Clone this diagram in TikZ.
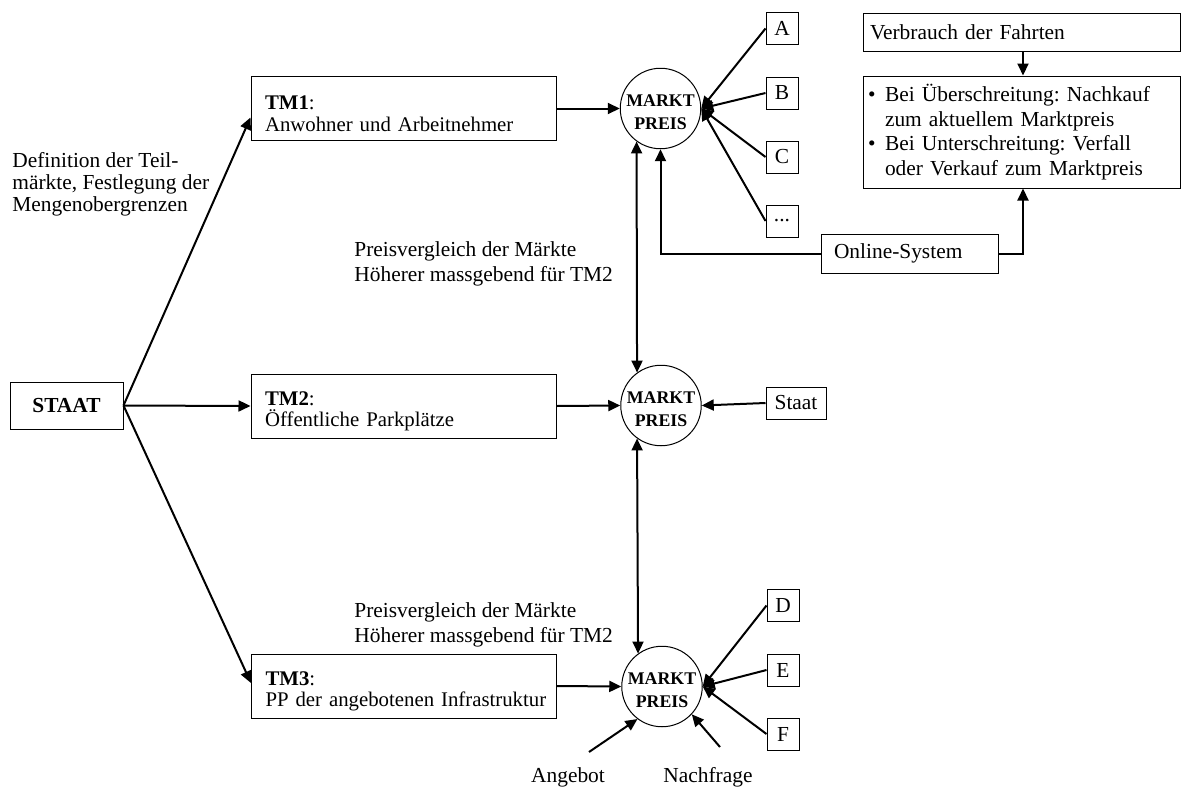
\documentclass[tikz,border=0pt]{standalone}
\usepackage{fontspec}
\setmainfont{Liberation Serif}
\usetikzlibrary{arrows.meta,calc}
\frenchspacing
\begin{document}
\begin{tikzpicture}[x=0.5pt,y=-0.5pt,
  font=\fontsize{10.7}{12.3}\selectfont\frenchspacing,
  box/.style={draw,line width=0.5pt,inner sep=0pt},
  tmbox/.style={box,minimum width=152.5pt,minimum height=32pt,text width=138.5pt,align=left,font=\fontsize{10.4}{10.8}\selectfont\frenchspacing},
  letter/.style={box,minimum width=16pt,minimum height=16pt},
  markt/.style={draw,circle,line width=0.5pt,minimum size=40pt,inner sep=0pt,align=center,font=\fontsize{8.9}{11.5}\selectfont\bfseries},
  arr/.style={line width=1pt,-{Triangle[length=6pt,width=5.5pt]}},
  darr/.style={line width=1pt,{Triangle[length=6pt,width=5.5pt]}-{Triangle[length=6pt,width=5.5pt]}},
  lbl/.style={inner sep=0pt,align=left}]
\useasboundingbox (0,0) rectangle (1182,787);

% nodes
\node[box,minimum width=56.5pt,minimum height=23.5pt,font=\fontsize{10.7}{12.3}\selectfont\bfseries] (staat) at (66.5,405.5) {STAAT};
\node[tmbox] (tm1) at (403.5,108.5) {\rule{0pt}{12.3pt}\textbf{TM1}:\\\mbox{Anwohner und Arbeitnehmer}};
\node[tmbox] (tm2) at (403.5,406) {\rule{0pt}{12.3pt}\textbf{TM2}:\\\mbox{Öffentliche Parkplätze}};
\node[tmbox] (tm3) at (404,686) {\rule{0pt}{12.3pt}\textbf{TM3}:\\\mbox{PP der angebotenen Infrastruktur}};

\node[markt] (c1) at (660.5,108.5) {\rule{0pt}{10pt}MARKT\\PREIS};
\node[markt] (c2) at (661,405.5) {\rule{0pt}{10pt}MARKT\\PREIS};
\node[markt] (c3) at (662,686.5) {\rule{0pt}{10pt}MARKT\\PREIS};

\node[letter] (a) at (782,28.5) {A};
\node[letter] (b) at (782,93) {B};
\node[letter] (c) at (782,157) {C};
\node[letter] (dots) at (782,221) {...};
\node[box,minimum width=30pt,minimum height=16pt] (st2) at (796,403) {Staat};
\node[letter] (d) at (783,605.5) {D};
\node[letter] (e) at (783,670) {E};
\node[letter] (f) at (783,734) {F};

\node[box,minimum width=88.5pt,minimum height=19.5pt,text width=75.5pt,align=left] (online) at (909.5,253.5) {Online-System};
\node[box,minimum width=158.5pt,minimum height=19pt,text width=151.5pt,align=left] (verb) at (1021.5,32) {Verbrauch der Fahrten};
\node[box,minimum width=158.5pt,minimum height=56pt,text width=153.5pt,align=left] (bul) at (1021.5,132)
 {\makebox[8.5pt][l]{\textbullet}Bei Überschreitung: Nachkauf\\\hspace*{8.5pt}zum aktuellem Marktpreis\\
  \makebox[8.5pt][l]{\textbullet}Bei Unterschreitung: Verfall\\\hspace*{8.5pt}oder Verkauf zum Marktpreis};

\node[lbl,anchor=west,font=\fontsize{10.7}{10.9}\selectfont] (deftxt) at (12,184) {Definition der Teil-\\märkte, Festlegung der\\Mengenobergrenzen};
\node[lbl,anchor=west] (pv1) at (354,264) {Preisvergleich der Märkte\\Höherer massgebend für TM2};
\node[lbl,anchor=west] (pv2) at (354,625) {Preisvergleich der Märkte\\Höherer massgebend für TM2};

\node[inner sep=0pt] (angebot) at (568,777) {Angebot};
\node[inner sep=0pt] (nachfrage) at (708,777) {Nachfrage};
\coordinate (angs) at (589,752);
\coordinate (nachs) at (720,747);

% connectors
\draw[arr] (staat.east) -- ($(tm1.west)+(0,9)$);
\draw[arr] (staat.east) -- (tm2.west);
\draw[arr] (staat.east) -- ($(tm3.west)+(0,-3)$);
\draw[arr] (tm1.east) -- (c1.west);
\draw[arr] (tm2.east) -- (c2.west);
\draw[arr] (tm3.east) -- (c3.west);

\draw[arr] (a.west) -- (c1.east);
\draw[arr] (b.west) -- (c1.east);
\draw[arr] (c.west) -- (c1.east);
\draw[arr] (dots.west) -- (c1.east);

\draw[darr] (c1.234) -- (c2.126);
\draw[darr] (c2.234) -- (c3.126);

\draw[arr] (online.west) -| (c1.south);
\draw[arr] (online.east) -| ($(bul.south)+(1.5,0)$);
\draw[arr] ($(verb.south)+(1.5,0)$) -- ($(bul.north)+(1.5,0)$);

\draw[arr] (st2.west) -- (c2.east);
\draw[arr] (d.west) -- (c3.east);
\draw[arr] (e.west) -- (c3.east);
\draw[arr] (f.west) -- (c3.east);

\draw[arr] (angs) -- (c3.233);
\draw[arr] (nachs) -- (c3.317);
\end{tikzpicture}
\end{document}
